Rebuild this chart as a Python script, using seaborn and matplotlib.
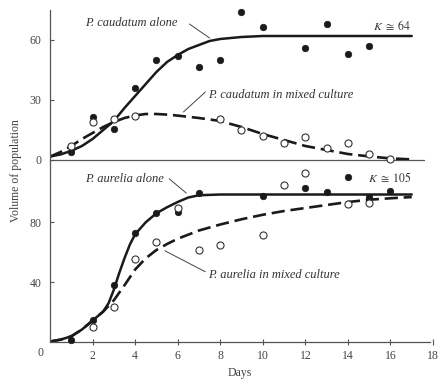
import numpy as np
import pandas as pd
import matplotlib
matplotlib.use("Agg")
import matplotlib.pyplot as plt
import seaborn as sns

sns.set_style("ticks")
plt.rcParams['font.family'] = ['Liberation Serif', 'DejaVu Serif', 'DejaVu Sans']
plt.rcParams['mathtext.fontset'] = 'stix'

# ---------------- data ----------------
# P. caudatum observations (top panel)
caud_alone_days = [1, 2, 3, 4, 5, 6, 7, 8, 9, 10, 12, 13, 14, 15]
caud_alone_vals = [4.2, 21.3, 15.3, 36, 50, 52, 46.5, 50, 74, 66.7, 56, 68, 52.8, 57]
caud_mixed_days = [1, 2, 3, 4, 8, 9, 10, 11, 12, 13, 14, 15, 16]
caud_mixed_vals = [7, 19, 20.5, 22, 20.5, 15, 12.2, 8.3, 11.7, 6.2, 8.7, 2.8, 0.3]

# P. caudatum fitted curves
caud_curve_days = [0, 0.5, 1, 1.5, 2, 2.5, 3, 3.5, 4, 4.5, 5, 5.5, 6, 6.5, 7, 7.5, 8, 9, 10, 12, 14, 16, 17]
caud_alone_curve = [1.7, 2.8, 4.6, 7, 10.5, 15, 19.5, 26, 32, 38, 44, 49, 52.5, 55.5, 57.5, 59.5, 60.5, 61.5, 62, 62, 62, 62, 62]
caud_mixed_curve_days = [0, 0.5, 1, 1.5, 2, 2.5, 3, 3.5, 4, 4.5, 5, 5.5, 6, 7, 8, 9, 10, 11, 12, 13, 14, 15, 16, 17]
caud_mixed_curve = [1.7, 4, 7, 10.5, 13.5, 16.5, 19, 21, 22.3, 23, 23, 22.7, 22.2, 21, 19.5, 16.5, 13, 10, 7, 5, 3, 1.8, 0.8, 0.3]

# P. aurelia observations (bottom panel)
aur_alone_days = [1, 2, 3, 4, 5, 6, 7, 10, 12, 13, 14, 15, 16]
aur_alone_vals = [1.5, 15, 38.2, 72.7, 86.4, 86.8, 99.3, 97.5, 102.7, 100.2, 110.4, 97, 101]
aur_mixed_days = [2, 3, 4, 5, 6, 7, 8, 10, 11, 12, 14, 15]
aur_mixed_vals = [10.4, 23.7, 55.3, 67, 89.3, 61.8, 64.9, 71.2, 104.9, 112.7, 92.3, 92.7]

# P. aurelia fitted curves
aur_alone_curve_days = [0, 0.5, 1, 1.5, 2, 2.5, 2.75, 3, 3.25, 3.5, 3.75, 4, 4.5, 5, 5.5, 6, 6.5, 7, 8, 10, 12, 14, 16, 17]
aur_alone_curve = [0.5, 1.8, 4, 8.5, 14.5, 20.5, 26, 35, 46, 56, 65, 72, 80, 86, 90, 93.5, 96.5, 98, 98.5, 98.5, 98.5, 98.5, 98.5, 98.5]
aur_mixed_curve_days = [0, 0.5, 1, 1.5, 2, 2.5, 3, 3.5, 4, 4.5, 5, 5.5, 6, 7, 8, 9, 10, 11, 12, 13, 14, 15, 16, 17]
aur_mixed_curve = [0.5, 1.8, 4, 8.5, 14.5, 20.5, 28, 38, 48.5, 56, 61.5, 65.5, 69, 74.5, 78.5, 82, 85, 87.5, 89.5, 91.5, 93.5, 95, 96, 96.8]

x_ticks = [2, 4, 6, 8, 10, 12, 14, 16, 18]
top_yticks = [0, 30, 60]
bottom_yticks = [40, 80]

# ---------------- figure ----------------
W, H = 438, 383
fig = plt.figure(figsize=(W / 100, H / 100), dpi=100)
fig.patch.set_facecolor('white')

def fx(px):
    return px / W

def fy(py):
    return (H - py) / H

left = fx(50)
width = fx(433) - left
ax_top = fig.add_axes([left, fy(160), width, fy(10) - fy(160)])
ax_bot = fig.add_axes([left, fy(342.3), width, fy(160) - fy(342.3)])

ink = '#1a1a1a'
axis_col = '#555555'
dash = (5, 2.2)

# --- top panel ---
sns.lineplot(x=caud_curve_days, y=caud_alone_curve, ax=ax_top, color=ink, lw=1.8)
sns.lineplot(x=caud_mixed_curve_days, y=caud_mixed_curve, ax=ax_top, color=ink, lw=1.9,
             linestyle=(0, dash))
sns.scatterplot(x=caud_alone_days, y=caud_alone_vals, ax=ax_top, color=ink, s=22,
                edgecolor=ink, linewidth=0.5, clip_on=False, zorder=4)
sns.scatterplot(x=caud_mixed_days, y=caud_mixed_vals, ax=ax_top, facecolor='white', s=26,
                edgecolor='#333333', linewidth=0.8, clip_on=False, zorder=4)
ax_top.set_xlim(0, 18)
ax_top.set_ylim(0, 75)
ax_top.set_yticks(top_yticks)
ax_top.set_xticks([])
for s in ['top', 'right', 'bottom']:
    ax_top.spines[s].set_visible(False)
ax_top.spines['left'].set_color(axis_col)
ax_top.spines['left'].set_linewidth(0.9)
ax_top.plot([0, 17.6], [0, 0], color=axis_col, lw=0.9, zorder=1, clip_on=False)
ax_top.tick_params(axis='y', direction='in', length=3, width=0.8, color=axis_col,
                   labelsize=8.5, labelcolor='#444444', pad=6)
ax_top.set_facecolor('none')

tfont = dict(fontsize=9, style='italic', color='#333333')
ax_top.text(1.65, 68.5, 'P. caudatum alone', ha='left', va='center', **tfont)
ax_top.plot([6.55, 7.5], [68, 61], color='#444444', lw=0.7)
ax_top.text(17.0, 67, r'$K\ \cong\ 64$', ha='right', va='center', fontsize=8.5,
            color='#333333')
ax_top.text(7.45, 32.5, 'P. caudatum in mixed culture', ha='left', va='center', **tfont)
ax_top.plot([7.3, 6.27], [34, 24], color='#444444', lw=0.7)

# --- bottom panel ---
sns.lineplot(x=aur_alone_curve_days, y=aur_alone_curve, ax=ax_bot, color=ink, lw=1.8)
sns.lineplot(x=aur_mixed_curve_days, y=aur_mixed_curve, ax=ax_bot, color=ink, lw=1.9,
             linestyle=(0, dash))
sns.scatterplot(x=aur_alone_days, y=aur_alone_vals, ax=ax_bot, color=ink, s=22,
                edgecolor=ink, linewidth=0.5, clip_on=False, zorder=4)
sns.scatterplot(x=aur_mixed_days, y=aur_mixed_vals, ax=ax_bot, facecolor='white', s=26,
                edgecolor='#333333', linewidth=0.8, clip_on=False, zorder=4)
ax_bot.set_xlim(0, 18)
ax_bot.set_ylim(0, 121.5)
ax_bot.set_yticks(bottom_yticks)
ax_bot.set_xticks(x_ticks)
ax_bot.set_xticklabels([str(t) for t in x_ticks])
for s in ['top', 'right']:
    ax_bot.spines[s].set_visible(False)
for s in ['left', 'bottom']:
    ax_bot.spines[s].set_color(axis_col)
    ax_bot.spines[s].set_linewidth(0.9)
ax_bot.spines['bottom'].set_bounds(0, 17.85)
ax_bot.tick_params(axis='y', direction='in', length=3, width=0.8, color=axis_col,
                   labelsize=8.5, labelcolor='#444444', pad=6)
ax_bot.tick_params(axis='x', direction='inout', length=5, width=0.8, color=axis_col,
                   labelsize=8.5, labelcolor='#444444', pad=3)
ax_bot.set_facecolor('none')

ax_bot.text(1.65, 109, 'P. aurelia alone', ha='left', va='center', **tfont)
ax_bot.plot([5.6, 6.4], [109, 99.5], color='#444444', lw=0.7)
ax_bot.text(17.0, 109.5, r'$K\ \cong\ 105$', ha='right', va='center', fontsize=8.5,
            color='#333333')
ax_bot.text(7.45, 45, 'P. aurelia in mixed culture', ha='left', va='center', **tfont)
ax_bot.plot([7.3, 5.4], [47, 61], color='#444444', lw=0.7)

ax_bot.set_xlabel('')
ax_bot.set_ylabel('')
ax_top.set_ylabel('')

# shared origin label, axis titles
fig.text(fx(41), fy(353), '0', ha='center', va='center', fontsize=8.5, color='#444444')
fig.text(fx(240), fy(373), 'Days', ha='center', va='center', fontsize=8.5, color='#444444')
fig.text(fx(16), fy(171), 'Volume of population', ha='center', va='center', rotation=90,
         fontsize=8.5, color='#444444')

fig.savefig('out.png', dpi=100)
